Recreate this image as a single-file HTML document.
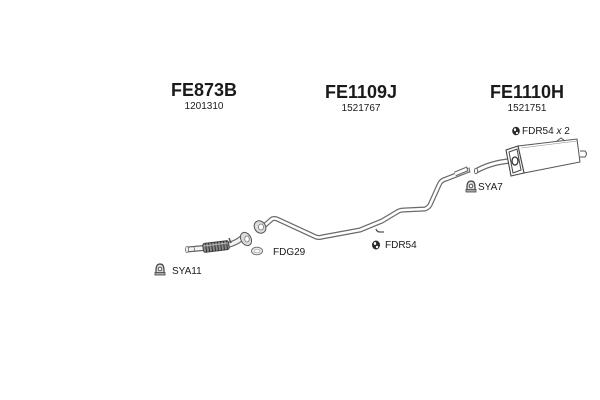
<!DOCTYPE html>
<html><head><meta charset="utf-8"><style>
html,body{margin:0;padding:0;background:#fff;}
svg{display:block;}
text{font-family:"Liberation Sans",Arial,sans-serif;fill:#1a1a1a;}
.t{font-size:18px;font-weight:bold;}
.n{font-size:10px;}
.l{font-size:10px;}
</style></head><body>
<svg width="600" height="400" viewBox="0 0 600 400" xmlns="http://www.w3.org/2000/svg">
<rect width="600" height="400" fill="#fff"/>
<!-- titles -->
<text class="t" x="204" y="96" text-anchor="middle">FE873B</text>
<text class="n" x="204" y="109" text-anchor="middle">1201310</text>
<text class="t" x="361" y="98" text-anchor="middle">FE1109J</text>
<text class="n" x="361" y="111" text-anchor="middle">1521767</text>
<text class="t" x="527" y="98" text-anchor="middle">FE1110H</text>
<text class="n" x="527" y="111" text-anchor="middle">1521751</text>

<!-- main pipe FE1109J -->
<path d="M264,226 L272,219 Q274,218 277,219 L316,237 Q319,238 322,237 L360,230 L382,221 L397,212 Q400,210 404,210 L425,209 Q428,208 430,205 L439,185 Q441,180 446,179 L469,170" fill="none" stroke="#6a6a6a" stroke-width="5" stroke-linejoin="round"/>
<path d="M264,226 L272,219 Q274,218 277,219 L316,237 Q319,238 322,237 L360,230 L382,221 L397,212 Q400,210 404,210 L425,209 Q428,208 430,205 L439,185 Q441,180 446,179 L469,170" fill="none" stroke="#fff" stroke-width="2.6" stroke-linejoin="round"/>
<line x1="469" y1="167.5" x2="470" y2="172.5" stroke="#6a6a6a" stroke-width="1"/>
<!-- hanger bracket -->
<path d="M376,229 Q377,232 380,232 L384,232" fill="none" stroke="#555" stroke-width="1.3"/>
<!-- flange FE1109J -->
<ellipse cx="260" cy="227" rx="5.5" ry="6.5" transform="rotate(-35 260 227)" fill="#ddd" stroke="#555" stroke-width="1"/>
<ellipse cx="261" cy="227" rx="2.5" ry="3" fill="#fff" stroke="#777" stroke-width="0.8"/>

<!-- front pipe FE873B -->
<path d="M187,249.5 L204,248" fill="none" stroke="#666" stroke-width="6"/>
<path d="M187,249.5 L204,248" fill="none" stroke="#f4f4f4" stroke-width="3.6"/>
<ellipse cx="187" cy="249.5" rx="1.5" ry="3" fill="#eee" stroke="#666" stroke-width="0.8"/>
<line x1="194" y1="246.5" x2="195" y2="252" stroke="#777" stroke-width="0.8"/>
<path d="M228,245 Q236,243 242,238" fill="none" stroke="#666" stroke-width="6"/>
<path d="M228,245 Q236,243 242,238" fill="none" stroke="#f4f4f4" stroke-width="3.6"/>
<g transform="rotate(-7 216 246.5)">
<rect x="203" y="242" width="26" height="9" rx="2" fill="#888" stroke="#444" stroke-width="1"/>
<path d="M206,242v9M209,242v9M212,242v9M215,242v9M218,242v9M221,242v9M224,242v9M227,242v9" stroke="#333" stroke-width="1"/>
<line x1="204" y1="244.5" x2="228" y2="244.5" stroke="#bbb" stroke-width="1"/>
</g>
<line x1="229" y1="238" x2="231" y2="243" stroke="#555" stroke-width="1.5"/>
<ellipse cx="246" cy="239" rx="5" ry="7" transform="rotate(-30 246 239)" fill="#ddd" stroke="#555" stroke-width="1"/>
<ellipse cx="247" cy="239" rx="2.3" ry="3" fill="#fff" stroke="#777" stroke-width="0.8"/>

<!-- gasket -->
<ellipse cx="257" cy="251" rx="5.5" ry="3.8" fill="#eee" stroke="#777" stroke-width="1"/>
<ellipse cx="257" cy="251" rx="3" ry="1.8" fill="#fff" stroke="#999" stroke-width="0.7"/>
<text class="l" x="273" y="255">FDG29</text>

<!-- SYA11 -->
<g transform="translate(155,263)">
<path d="M1,11 L1,7 Q1,1 5,1 Q9,1 9,7 L9,11" fill="#ddd" stroke="#444" stroke-width="1.2"/>
<circle cx="5" cy="6" r="1.8" fill="#fff" stroke="#444" stroke-width="0.9"/>
<rect x="0" y="9.5" width="10" height="2.5" fill="#aaa" stroke="#444" stroke-width="0.8"/>
</g>
<text class="l" x="172" y="274">SYA11</text>

<!-- FDR54 -->
<ellipse cx="376" cy="245" rx="4" ry="4.5" fill="#2a2a2a"/>
<ellipse cx="375" cy="243.5" rx="1.2" ry="1.5" fill="#fff"/>
<ellipse cx="377" cy="247" rx="1.2" ry="1.2" fill="#fff"/>
<text class="l" x="385" y="248">FDR54</text>

<!-- rear small pipe segment -->
<path d="M455,174 L467,169" stroke="#6a6a6a" stroke-width="5"/>
<path d="M455,174 L467,169" stroke="#fff" stroke-width="2.6"/>
<line x1="466.5" y1="166.5" x2="468" y2="171.5" stroke="#6a6a6a" stroke-width="1"/>
<!-- muffler inlet pipe -->
<path d="M476,171 Q490,163 509,161" fill="none" stroke="#6a6a6a" stroke-width="5.5"/>
<path d="M476,171 Q490,163 509,161" fill="none" stroke="#fff" stroke-width="3"/>
<ellipse cx="476" cy="171" rx="1.6" ry="2.8" fill="#fff" stroke="#6a6a6a" stroke-width="1"/>

<!-- muffler -->
<path d="M518,146 L577,139 L580,162 L524,173 Z" fill="#fff" stroke="#555" stroke-width="1"/>
<path d="M506,150 L518,146 L524,173 L511,176 Z" fill="#fff" stroke="#444" stroke-width="1.1"/>
<path d="M509,152 L517,149 L521,170 L513,173 Z" fill="#fff" stroke="#444" stroke-width="1"/>
<ellipse cx="515" cy="161" rx="3" ry="4" fill="#fff" stroke="#333" stroke-width="1.3"/>
<line x1="521" y1="148" x2="577" y2="141" stroke="#888" stroke-width="0.6"/>
<path d="M557,141 L561,138 L565,141" fill="none" stroke="#555" stroke-width="1"/>
<path d="M580,151 L585,151 Q588,154 585,157 L580,157" fill="#fff" stroke="#555" stroke-width="1"/>

<!-- FDR54 x 2 -->
<ellipse cx="516" cy="131" rx="3.8" ry="4.3" fill="#2a2a2a"/>
<ellipse cx="515" cy="129.7" rx="1.1" ry="1.4" fill="#fff"/>
<ellipse cx="517" cy="133" rx="1.1" ry="1.1" fill="#fff"/>
<text class="l" x="522" y="134">FDR54 <tspan font-style="italic">x</tspan> 2</text>

<!-- SYA7 -->
<g transform="translate(466,180)">
<path d="M1,11 L1,7 Q1,1 5,1 Q9,1 9,7 L9,11" fill="#ddd" stroke="#444" stroke-width="1.2"/>
<circle cx="5" cy="6" r="1.8" fill="#fff" stroke="#444" stroke-width="0.9"/>
<rect x="0" y="9.5" width="10" height="2.5" fill="#aaa" stroke="#444" stroke-width="0.8"/>
</g>
<text class="l" x="478" y="190">SYA7</text>
</svg>
</body></html>
